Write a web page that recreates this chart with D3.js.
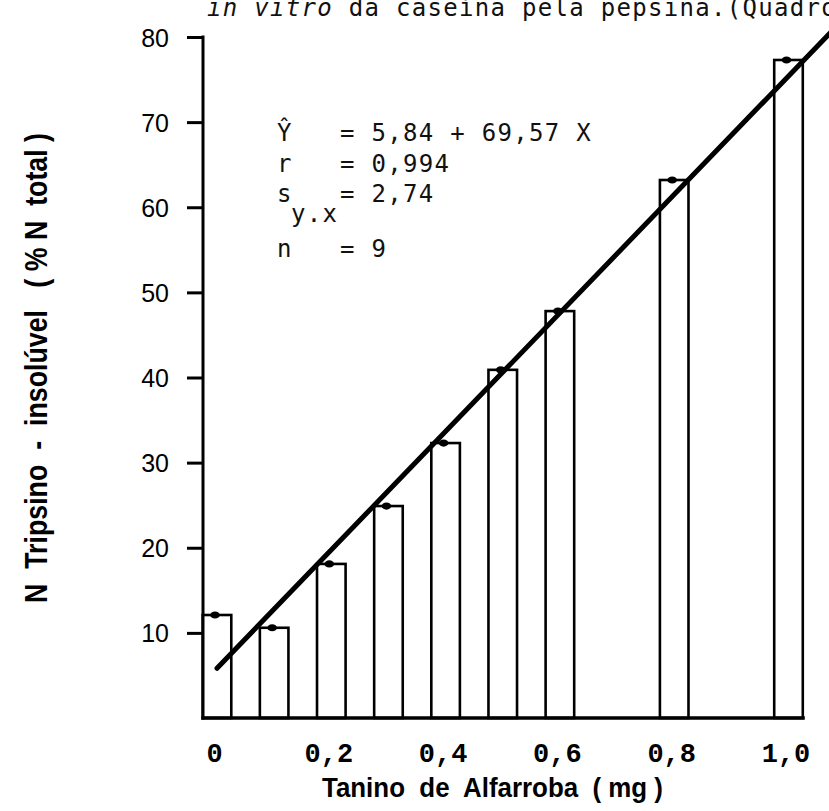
<!DOCTYPE html>
<html>
<head>
<meta charset="utf-8">
<script src="https://cdn.jsdelivr.net/npm/d3@7/dist/d3.min.js"></script>
<style>
  html, body { margin: 0; padding: 0; background: #fff; }
  svg { display: block; }
  text { white-space: pre; }
</style>
</head>
<body>
<svg id="chart" width="829" height="811"></svg>
<script>
// Tannin dose (mg) and trypsin-insoluble nitrogen (% of total N)
const doses = [0, 0.1, 0.2, 0.3, 0.4, 0.5, 0.6, 0.8, 1.0];
const nInsoluble = [12.1, 10.6, 18.1, 24.9, 32.3, 40.9, 47.8, 63.2, 77.3];

// Axis ticks
const xTickValues = [0, 0.2, 0.4, 0.6, 0.8, 1.0];
const xTickLabels = ["0", "0,2", "0,4", "0,6", "0,8", "1,0"];
const yTickValues = [10, 20, 30, 40, 50, 60, 70, 80];

// Fitted regression line  Ŷ = a + b X
const fitIntercept = 5.84;
const fitSlope = 69.57;
const fitRange = [0, 1.08];

// Regression summary
const statLines = [
  { label: "Ŷ", text: "   = 5,84 + 69,57 X" },
  { label: "r", text: "   = 0,994" },
  { label: "s", text: "   = 2,74", sub: "y.x" },
  { label: "n", text: "   = 9" }
];

const titleText = " da caseína pela pepsina.(Quadro";

const svg = d3.select("#chart");
const W = 829, H = 811;
svg.append("rect").attr("width", W).attr("height", H).attr("fill", "#fff");

const x = d3.scaleLinear().domain([0, 1]).range([217, 788.5]);
const y = d3.scaleLinear().domain([0, 80]).range([718, 37]);
const halfBar = 0.025;

const mono = "'DejaVu Sans Mono', monospace";

// Caption fragment at the top
const title = svg.append("text")
  .attr("x", 207).attr("y", 16)
  .attr("font-family", mono).attr("font-size", 24)
  .attr("letter-spacing", 1.3).attr("fill", "#111");
title.append("tspan").attr("font-style", "italic").text("in vitro");
title.append("tspan").text(titleText);

// Bars: open rectangles
const bars = svg.append("g");
bars.selectAll("rect").data(doses).join("rect")
  .attr("x", d => x(d - halfBar))
  .attr("y", (d, i) => y(nInsoluble[i]))
  .attr("width", d => x(d + halfBar) - x(d - halfBar))
  .attr("height", (d, i) => y(0) - y(nInsoluble[i]))
  .attr("fill", "#fff").attr("stroke", "#000").attr("stroke-width", 2.6);

// Mean markers on top of each bar
bars.selectAll("ellipse").data(doses).join("ellipse")
  .attr("cx", d => x(d) - 2)
  .attr("cy", (d, i) => y(nInsoluble[i]))
  .attr("rx", 4.8).attr("ry", 3.6)
  .attr("fill", "#000");

// Y axis
const yAxis = d3.axisLeft(y).tickValues(yTickValues).tickSize(16).tickPadding(18)
  .tickFormat(d3.format("d"));
const gy = svg.append("g").attr("transform", "translate(203,0)").call(yAxis);
gy.select(".domain").remove();
gy.selectAll(".tick line").attr("stroke", "#000").attr("stroke-width", 3);
gy.selectAll(".tick text")
  .attr("font-family", "'Liberation Sans', Arial, sans-serif")
  .attr("font-size", 25).attr("fill", "#000").attr("dy", "0.36em");

svg.append("line")
  .attr("x1", 203).attr("x2", 203)
  .attr("y1", y(80) - 1.5).attr("y2", y(0) + 1.5)
  .attr("stroke", "#000").attr("stroke-width", 3);

// X axis
svg.append("line")
  .attr("x1", x(-halfBar) - 1.5).attr("x2", x(1 + halfBar) + 2)
  .attr("y1", y(0)).attr("y2", y(0))
  .attr("stroke", "#000").attr("stroke-width", 3.5);

const xAxis = d3.axisBottom(x).tickValues(xTickValues).tickSize(0).tickPadding(0)
  .tickFormat((d, i) => xTickLabels[i]);
const gx = svg.append("g").call(xAxis);
gx.select(".domain").remove();
gx.attr("transform", "translate(-3,762)");
gx.selectAll(".tick text")
  .attr("y", 0).attr("dy", 0)
  .attr("font-family", "'Liberation Mono', monospace")
  .attr("font-size", 27).attr("font-weight", "bold").attr("fill", "#000");

// Regression line
svg.append("line")
  .attr("x1", x(fitRange[0])).attr("y1", y(fitIntercept + fitSlope * fitRange[0]))
  .attr("x2", x(fitRange[1])).attr("y2", y(fitIntercept + fitSlope * fitRange[1]))
  .attr("stroke", "#000").attr("stroke-width", 5).attr("stroke-linecap", "round");

// Regression statistics
const statsG = svg.append("g")
  .attr("font-family", mono).attr("font-size", 24).attr("letter-spacing", 1.3)
  .attr("fill", "#111");
const statY = [141, 172, 202, 257];
statLines.forEach((s, i) => {
  const t = statsG.append("text").attr("x", 277).attr("y", statY[i]);
  t.append("tspan").text(s.label);
  if (s.sub) {
    statsG.append("text").attr("x", 291).attr("y", statY[i] + 20).text(s.sub);
  }
  t.append("tspan").text(s.text);
});

// Axis titles
const condensed = "'Liberation Sans', Arial, sans-serif";
svg.append("text")
  .attr("x", 322).attr("y", 797)
  .attr("font-family", condensed).attr("font-weight", "bold").attr("font-size", 27)
  .attr("textLength", 341).attr("lengthAdjust", "spacingAndGlyphs")
  .attr("fill", "#000")
  .text("Tanino  de  Alfarroba  ( mg )");

svg.append("text")
  .attr("transform", "translate(47,603) rotate(-90)")
  .attr("x", 0).attr("y", 0)
  .attr("font-family", condensed).attr("font-weight", "bold").attr("font-size", 32)
  .attr("textLength", 470).attr("lengthAdjust", "spacingAndGlyphs")
  .attr("fill", "#000")
  .text("N  Tripsino  -  insolúvel   ( % N  total )");
</script>
</body>
</html>
